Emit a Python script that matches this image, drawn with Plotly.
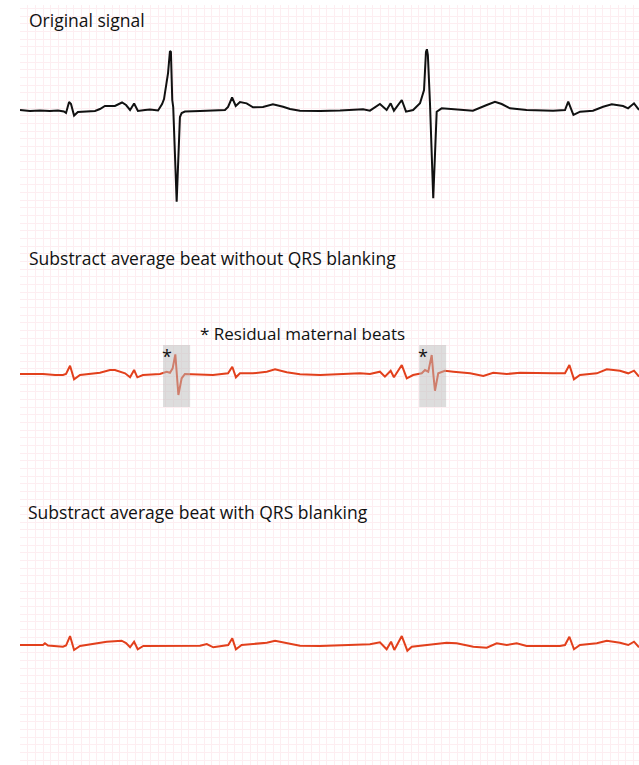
import plotly.graph_objects as go

# Time (ms) and amplitude (µV) samples for each trace
orig_t = [0, 52, 104, 156, 198, 229, 240, 256, 266, 282, 302, 339, 391, 417, 443, 495, 532, 553, 574, 595,
          615, 652, 678, 720, 741, 751, 772, 782, 787, 794, 799, 817, 834, 843, 860, 939, 1017, 1069, 1085, 1106,
          1125, 1147, 1182, 1215, 1267, 1319, 1372, 1408, 1460, 1565, 1669, 1789, 1825, 1877, 1912, 1933, 1950,
          1991, 2013, 2050, 2086, 2107, 2117, 2122, 2127, 2138, 2155, 2173, 2199, 2295, 2362, 2434, 2477, 2512,
          2555, 2642, 2780, 2842, 2859, 2886, 2921, 2988, 3041, 3086, 3145, 3171, 3202, 3228]
orig_v = [0, -13, -7, -13, -7, -20, -39, 104, 78, -72, -26, -20, -13, 13, 52, 52, 98, 65, 0, 85,
          -13, 0, 7, -7, 78, 143, 482, 769, 756, 130, 39, -1196, -91, -39, -20, -13, -7, 0, 39, 163,
          52, 104, 87, 35, 39, 74, 43, 13, -9, -13, -7, 9, -9, 78, 0, 87, -9,
          130, -22, 0, 87, 261, 756, 792, 717, 87, -1151, -22, 22, 0, -9, 65, 108, 78,
          22, 0, -9, 0, 108, -65, -22, -9, 43, 74, 52, 22, 87, 0]

noblank_t = [0, 120, 183, 224, 240, 261, 282, 313, 417, 469, 495, 548, 574, 595, 612, 641, 730, 765, 782, 796,
             810, 817, 826, 843, 860, 1006, 1085, 1107, 1126, 1147, 1215, 1287, 1330, 1391, 1460, 1565, 1773,
             1825, 1877, 1903, 1933, 1950, 1991, 2017, 2050, 2095, 2112, 2129, 2147, 2155, 2164, 2181, 2216,
             2260, 2347, 2416, 2468, 2538, 2608, 2781, 2842, 2865, 2889, 2920, 3008, 3060, 3129, 3172, 3202, 3228]
noblank_v = [0, 0, -13, -13, 0, 108, -69, -13, 17, 52, 52, 9, -43, 52, -43, -13, 0, 30, 17, 74,
             256, -35, -274, -56, 0, -13, 9, 95, -43, 9, 9, 30, 61, 22, -4, -13, 9,
             0, 30, -35, 43, -43, 117, -56, -13, 9, 52, 30, 248, 9, -218, 9, 43,
             30, 9, -26, 17, 0, 17, 9, 9, 117, -69, -13, 9, 61, 43, 9, 43, -35]

blank_t = [0, 120, 130, 146, 224, 240, 261, 282, 313, 400, 452, 530, 553, 574, 595, 614, 643, 939, 974, 1008,
           1086, 1107, 1126, 1156, 1217, 1287, 1330, 1391, 1460, 1565, 1738, 1825, 1877, 1912, 1935, 1952,
           1991, 2020, 2043, 2225, 2277, 2364, 2434, 2486, 2538, 2590, 2642, 2816, 2842, 2865, 2889, 2920,
           3008, 3060, 3129, 3172, 3202, 3228]
blank_v = [0, 0, 22, -7, -22, -7, 117, -65, -13, 22, 43, 56, 26, -30, 43, -56, -13, -9, 13, -30,
           0, 87, -56, 0, 13, 30, 56, 22, -9, -13, 0, 9, 35, -56, 43, -65,
           117, -74, -22, 30, 22, -22, -35, 22, 0, 22, -13, -13, 0, 108, -56, 0,
           22, 56, 30, 0, 43, -30]

# Windows (ms) around the residual maternal complexes
residual_windows = [(746, 887), (2082, 2222)]

T_MAX = 3228          # ms across the strip
HALF_SPAN = 1304      # µV shown above/below each baseline
GRID_H = 9911         # µV spanned by the full background grid

W, H = 639, 765
M_L, M_T = 20, 5
PLOT_H = H - M_T


def dom(base_px, half=100):
    lo = (H - (base_px + half)) / PLOT_H
    hi = (H - (base_px - half)) / PLOT_H
    return [lo, hi]


RED = "#e2401c"
fig = go.Figure()

# background ECG paper grid (first subplot so it sits beneath the traces)
fig.add_trace(go.Scatter(x=[0], y=[0], mode="markers", marker=dict(opacity=0),
                         hoverinfo="skip", showlegend=False, xaxis="x", yaxis="y"))

fig.add_trace(go.Scatter(x=orig_t, y=orig_v, mode="lines", line=dict(color="#111111", width=2),
                         showlegend=False, xaxis="x2", yaxis="y2"))
fig.add_trace(go.Scatter(x=noblank_t, y=noblank_v, mode="lines", line=dict(color=RED, width=2),
                         showlegend=False, xaxis="x3", yaxis="y3"))
fig.add_trace(go.Scatter(x=blank_t, y=blank_v, mode="lines", line=dict(color=RED, width=2),
                         showlegend=False, xaxis="x4", yaxis="y4"))

grid_col = "#fdeef1"
hidden = dict(visible=False, fixedrange=True)
fig.update_layout(
    width=W, height=H,
    margin=dict(l=M_L, r=0, t=M_T, b=0, pad=0),
    paper_bgcolor="white", plot_bgcolor="rgba(0,0,0,0)",
    xaxis=dict(range=[0, T_MAX], domain=[0, 1], tick0=0, dtick=40, showgrid=True, gridcolor=grid_col,
               gridwidth=1, showticklabels=False, ticks="", zeroline=False, showline=False, anchor="y"),
    yaxis=dict(range=[0, GRID_H], domain=[0, 1], tick0=65, dtick=100, showgrid=True, gridcolor=grid_col,
               gridwidth=1, showticklabels=False, ticks="", zeroline=False, showline=False, anchor="x"),
    xaxis2=dict(range=[0, T_MAX], domain=[0, 1], anchor="y2", **hidden),
    yaxis2=dict(range=[-HALF_SPAN, HALF_SPAN], domain=dom(110), anchor="x2", **hidden),
    xaxis3=dict(range=[0, T_MAX], domain=[0, 1], anchor="y3", **hidden),
    yaxis3=dict(range=[-HALF_SPAN, HALF_SPAN], domain=dom(374), anchor="x3", **hidden),
    xaxis4=dict(range=[0, T_MAX], domain=[0, 1], anchor="y4", **hidden),
    yaxis4=dict(range=[-HALF_SPAN, HALF_SPAN], domain=dom(645), anchor="x4", **hidden),
    font=dict(family="'Open Sans', sans-serif", color="#111111"),
)

for t0, t1 in residual_windows:
    fig.add_shape(type="rect", xref="x3", yref="y3", x0=t0, x1=t1, y0=-430, y1=378,
                  fillcolor="rgb(188,188,188)", opacity=0.5, line=dict(width=0), layer="above")
    fig.add_annotation(xref="x3", yref="y3", x=t0 + 20, y=240, text="*", showarrow=False,
                       xanchor="center", yanchor="middle", font=dict(size=18, color="#111111"))


def px_x(px):
    return (px - M_L) / (W - M_L)


def px_y(py):
    return (H - py) / PLOT_H


titles = [
    ("Original signal", 27, 20),
    ("Substract average beat without QRS blanking", 27, 258),
    ("Substract average beat with QRS blanking", 26, 512),
]
for txt, x, y in titles:
    fig.add_annotation(xref="paper", yref="paper", x=px_x(x), y=px_y(y), text=txt, showarrow=False,
                       xanchor="left", yanchor="middle", font=dict(size=17.5, color="#111111"))

fig.add_annotation(xref="paper", yref="paper", x=px_x(302), y=px_y(333), text="* Residual maternal beats",
                   showarrow=False, xanchor="center", yanchor="middle",
                   font=dict(size=17, color="#111111"))

fig.write_html("out.html")
